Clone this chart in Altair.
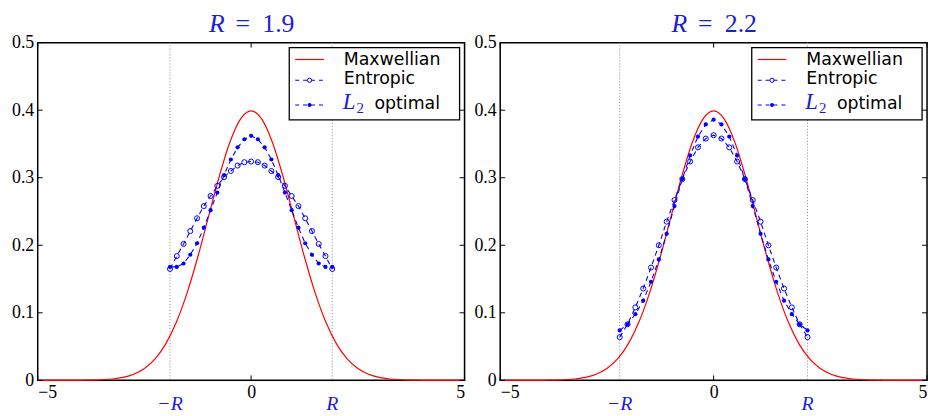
import altair as alt
import numpy as np
import pandas as pd

# ---------------- data ----------------
maxw_x = [-5.0, -4.75, -4.5, -4.25, -4.0, -3.75, -3.5, -3.25, -3.0, -2.75, -2.5, -2.25, -2.0,
          -1.75, -1.5, -1.25, -1.0, -0.75, -0.5, -0.25, 0.0, 0.25, 0.5, 0.75, 1.0, 1.25, 1.5,
          1.75, 2.0, 2.25, 2.5, 2.75, 3.0, 3.25, 3.5, 3.75, 4.0, 4.25, 4.5, 4.75, 5.0]
maxw_y = [0.0, 0.0, 0.0, 0.0, 0.0001, 0.0004, 0.0009, 0.0020, 0.0044, 0.0091, 0.0175, 0.0317, 0.0540,
          0.0863, 0.1295, 0.1826, 0.2420, 0.3011, 0.3521, 0.3867, 0.3989, 0.3867, 0.3521, 0.3011,
          0.2420, 0.1826, 0.1295, 0.0863, 0.0540, 0.0317, 0.0175, 0.0091, 0.0044, 0.0020, 0.0009,
          0.0004, 0.0001, 0.0, 0.0, 0.0, 0.0]

R1 = 1.9
ent1 = [0.165, 0.184, 0.202, 0.221, 0.240, 0.258, 0.273, 0.288, 0.301, 0.310, 0.318, 0.323, 0.324,
        0.323, 0.318, 0.310, 0.301, 0.288, 0.273, 0.258, 0.240, 0.221, 0.202, 0.184, 0.165]
l2_1 = [0.168, 0.168, 0.173, 0.186, 0.203, 0.226, 0.252, 0.278, 0.304, 0.327, 0.345, 0.357, 0.362,
        0.357, 0.345, 0.327, 0.304, 0.278, 0.252, 0.226, 0.203, 0.186, 0.173, 0.168, 0.168]

R2 = 2.2
ent2 = [0.064, 0.083, 0.108, 0.136, 0.167, 0.200, 0.235, 0.267, 0.298, 0.324, 0.345, 0.358, 0.363,
        0.358, 0.345, 0.324, 0.298, 0.267, 0.235, 0.200, 0.167, 0.136, 0.108, 0.083, 0.064]
l2_2 = [0.074, 0.083, 0.098, 0.118, 0.146, 0.179, 0.217, 0.258, 0.298, 0.333, 0.361, 0.379, 0.386,
        0.379, 0.361, 0.333, 0.298, 0.258, 0.217, 0.179, 0.146, 0.118, 0.098, 0.083, 0.074]

x_ticks = [-5, 0, 5]
y_ticks = [0, 0.1, 0.2, 0.3, 0.4, 0.5]

# ---------------- styling ----------------
W, H = 431, 341
BLUE = "#0000ff"
TXTBLUE = "#1c1cdc"
SERIF = "Liberation Serif"
SANS = "DejaVu Sans"

x_scale = alt.Scale(domain=[-5, 5], nice=False, zero=False)
y_scale = alt.Scale(domain=[0, 0.5], nice=False)
x_axis = alt.Axis(values=x_ticks, ticks=False, domain=False, grid=False, title=None,
                  labelFont=SERIF, labelFontSize=18, labelPadding=3, labelColor="black")
y_axis = alt.Axis(values=y_ticks, ticks=False, domain=False, grid=False, title=None,
                  labelFont=SERIF, labelFontSize=18, labelPadding=4, labelColor="black",
                  labelExpr="datum.value == 0 ? '0' : format(datum.value, '.1f')")


def X(field="x"):
    return alt.X(f"{field}:Q", scale=x_scale, axis=x_axis)


def Y(field="y"):
    return alt.Y(f"{field}:Q", scale=y_scale, axis=y_axis)


def panel(R, ent, l2):
    xs = np.linspace(-R, R, len(ent))
    d_max = pd.DataFrame({"x": maxw_x, "y": maxw_y})
    d_ent = pd.DataFrame({"x": xs, "y": ent})
    d_l2 = pd.DataFrame({"x": xs, "y": l2})
    d_r = pd.DataFrame({"x": [-R, R], "t": ["\u2212R", "R"]})
    d_xt = pd.DataFrame({"x": x_ticks})
    d_yt = pd.DataFrame({"y": y_ticks})
    one = d_r.head(1)

    frame = alt.Chart(one).mark_rect(fill="white", stroke="black", strokeWidth=1.5).encode(
        x=alt.value(0), x2=alt.value(W), y=alt.value(0), y2=alt.value(H))
    rlines = alt.Chart(d_r).mark_rule(color="#888888", strokeDash=[1, 2], strokeWidth=1).encode(
        x=X(), y=alt.value(0), y2=alt.value(H))
    maxw = alt.Chart(d_max).mark_line(color="#ff0000", strokeWidth=1.2, interpolate="monotone").encode(
        x=X(), y=Y())
    ent_line = alt.Chart(d_ent).mark_line(color=BLUE, strokeWidth=1.1, strokeDash=[5, 4]).encode(x=X(), y=Y())
    ent_pts = alt.Chart(d_ent).mark_point(shape="circle", filled=False, color=BLUE, size=26,
                                          strokeWidth=1, opacity=1).encode(x=X(), y=Y())
    l2_line = alt.Chart(d_l2).mark_line(color=BLUE, strokeWidth=1.1, strokeDash=[5, 4]).encode(x=X(), y=Y())
    l2_pts = alt.Chart(d_l2).mark_circle(color=BLUE, size=18, opacity=1).encode(x=X(), y=Y())

    tick_style = dict(color="black", strokeWidth=1)
    xt_b = alt.Chart(d_xt).mark_rule(**tick_style).encode(x=X(), y=alt.value(H), y2=alt.value(H - 5))
    xt_t = alt.Chart(d_xt).mark_rule(**tick_style).encode(x=X(), y=alt.value(0), y2=alt.value(5))
    yt_l = alt.Chart(d_yt).mark_rule(**tick_style).encode(y=Y(), x=alt.value(0), x2=alt.value(5))
    yt_r = alt.Chart(d_yt).mark_rule(**tick_style).encode(y=Y(), x=alt.value(W), x2=alt.value(W - 5))

    rlabels = alt.Chart(d_r).mark_text(font=SERIF, fontStyle="italic", fontSize=20, color=TXTBLUE,
                                       baseline="middle").encode(x=X(), y=alt.value(H + 24), text="t:N")

    title_R = alt.Chart(one).mark_text(font=SERIF, fontStyle="italic", fontSize=26, color=TXTBLUE,
                                       baseline="alphabetic", align="center").encode(
        x=alt.value(181), y=alt.value(-11), text=alt.value("R"))
    title_eq = alt.Chart(one).mark_text(font=SERIF, fontSize=26, color=TXTBLUE,
                                        baseline="alphabetic", align="center").encode(
        x=alt.value(207), y=alt.value(-11), text=alt.value("="))
    title_num = alt.Chart(one).mark_text(font=SERIF, fontSize=26, color=TXTBLUE,
                                         baseline="alphabetic", align="center").encode(
        x=alt.value(243), y=alt.value(-11), text=alt.value(f"{R}"))

    # legend
    box = alt.Chart(one).mark_rect(fill="white", stroke="black", strokeWidth=1.3).encode(
        x=alt.value(254), x2=alt.value(426), y=alt.value(5), y2=alt.value(78))
    lg_red = alt.Chart(one).mark_rule(color="#ff0000", strokeWidth=1.2).encode(
        x=alt.value(260), x2=alt.value(289), y=alt.value(17))
    lg_ent = alt.Chart(one).mark_rule(color=BLUE, strokeWidth=1.1, strokeDash=[4, 4]).encode(
        x=alt.value(260), x2=alt.value(289), y=alt.value(38))
    lg_ent_p = alt.Chart(one).mark_point(shape="circle", filled=False, color=BLUE, size=18,
                                         strokeWidth=1, opacity=1).encode(x=alt.value(274.5), y=alt.value(38))
    lg_l2 = alt.Chart(one).mark_rule(color=BLUE, strokeWidth=1.1, strokeDash=[4, 4]).encode(
        x=alt.value(260), x2=alt.value(289), y=alt.value(63))
    lg_l2_p = alt.Chart(one).mark_circle(color=BLUE, size=16, opacity=1).encode(
        x=alt.value(274.5), y=alt.value(63))
    txt = dict(font=SANS, fontSize=17.5, color="black", align="left", baseline="alphabetic")
    lg_t1 = alt.Chart(one).mark_text(**txt).encode(x=alt.value(309), y=alt.value(22.5), text=alt.value("Maxwellian"))
    lg_t2 = alt.Chart(one).mark_text(**txt).encode(x=alt.value(309), y=alt.value(42), text=alt.value("Entropic"))
    lg_L = alt.Chart(one).mark_text(font=SERIF, fontStyle="italic", fontSize=23, color=TXTBLUE, align="left",
                                    baseline="alphabetic").encode(x=alt.value(308), y=alt.value(67), text=alt.value("L"))
    lg_2 = alt.Chart(one).mark_text(font=SERIF, fontSize=15, color=TXTBLUE, align="left",
                                    baseline="alphabetic").encode(x=alt.value(322), y=alt.value(71), text=alt.value("2"))
    lg_t3 = alt.Chart(one).mark_text(**txt).encode(x=alt.value(340), y=alt.value(67), text=alt.value("optimal"))

    return alt.layer(
        frame, rlines, maxw, ent_line, l2_line, ent_pts, l2_pts,
        xt_b, xt_t, yt_l, yt_r, rlabels, title_R, title_eq, title_num,
        box, lg_red, lg_ent, lg_ent_p, lg_l2, lg_l2_p, lg_t1, lg_t2, lg_L, lg_2, lg_t3,
    ).properties(width=W, height=H)


chart = alt.hconcat(panel(R1, ent1, l2_1), panel(R2, ent2, l2_2), spacing=36, bounds="flush").properties(
    padding={"left": 3, "top": 0, "right": 0, "bottom": 0},
).configure_view(stroke=None).configure(background="white")

chart.save("out.html", embed_options={"renderer": "svg", "actions": False})
